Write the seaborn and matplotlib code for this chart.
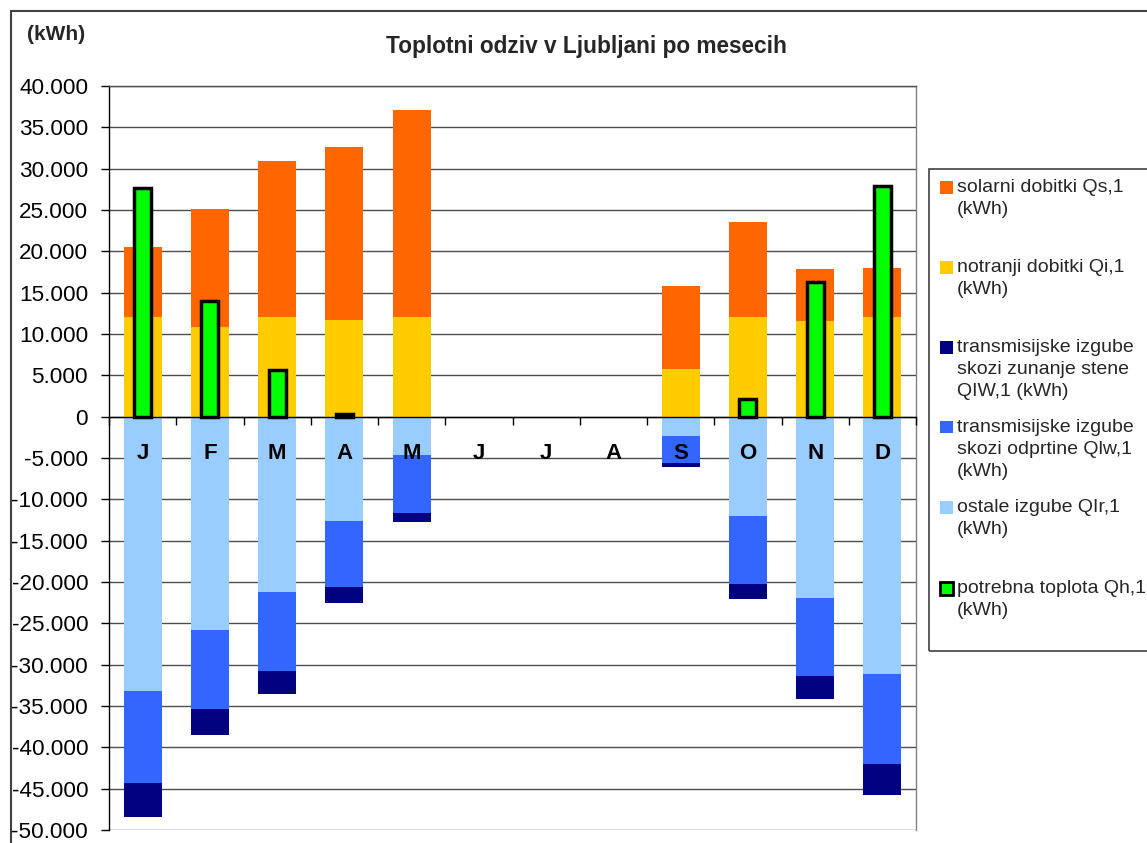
import numpy as np
import pandas as pd
import seaborn as sns
import matplotlib.pyplot as plt
from matplotlib.patches import Rectangle
from matplotlib.ticker import FuncFormatter, MultipleLocator

# monthly heat balance, Ljubljana (kWh)
months = ['J', 'F', 'M', 'A', 'M', 'J', 'J', 'A', 'S', 'O', 'N', 'D']
notranji = [12050, 10850, 12050, 11700, 12050, 0, 0, 0, 5770, 12050, 11570, 12050]
solarni = [8450, 14250, 18850, 20900, 25050, 0, 0, 0, 10030, 11450, 6290, 5950]
ostale = [33200, 25800, 21200, 12600, 4630, 0, 0, 0, 2340, 12000, 21900, 31100]
odprtine = [11100, 9550, 9550, 8000, 7020, 0, 0, 0, 3260, 8200, 9450, 10900]
zunanje = [4100, 3100, 2750, 1900, 1050, 0, 0, 0, 450, 1800, 2850, 3800]
potrebna = [27700, 14000, 5650, 300, 0, 0, 0, 0, 0, 2100, 16300, 27900]

legend_labels = ['solarni dobitki Qs,1\n(kWh)',
                 'notranji dobitki Qi,1\n(kWh)',
                 'transmisijske izgube\nskozi zunanje stene\nQIW,1 (kWh)',
                 'transmisijske izgube\nskozi odprtine Qlw,1\n(kWh)',
                 'ostale izgube QIr,1\n(kWh)',
                 'potrebna toplota Qh,1\n(kWh)']

c_sol = '#FF6600'
c_not = '#FFCC00'
c_zun = '#000080'
c_odp = '#3366FF'
c_ost = '#99CCFF'
c_pot = '#00FF00'

sns.set_style('white')
plt.rcParams['font.family'] = ['Liberation Sans', 'DejaVu Sans']

W, H = 1147, 843
fig = plt.figure(figsize=(W / 100, H / 100), dpi=100)
ax = fig.add_axes([109 / W, 1 - 830 / H, (916 - 109) / W, (830 - 86) / H])

df = pd.DataFrame({'pos': range(12), 'notranji': notranji, 'solarni': solarni,
                   'ostale': ostale, 'odprtine': odprtine, 'zunanje': zunanje,
                   'potrebna': potrebna})
df['potrebna'] = df['potrebna'].replace(0, np.nan)

bw = 0.565
common = dict(x='pos', data=df, width=bw, saturation=1, errorbar=None, ax=ax, linewidth=0)

# gains stacked upwards
sns.barplot(y='notranji', color=c_not, **common)
sns.barplot(y=df['solarni'], bottom=df['notranji'], color=c_sol, **common)

# losses stacked downwards
sns.barplot(y=-df['ostale'], color=c_ost, **common)
sns.barplot(y=-df['odprtine'], bottom=-df['ostale'], color=c_odp, **common)
sns.barplot(y=-df['zunanje'], bottom=-(df['ostale'] + df['odprtine']), color=c_zun, **common)

# required heat
sns.barplot(x='pos', y='potrebna', data=df, width=0.25, saturation=1, errorbar=None,
            ax=ax, color=c_pot, edgecolor='black', linewidth=2.5)

# spine first: moving it resets the ticks
ax.spines['bottom'].set_position(('data', 0))
ax.spines['bottom'].set_color('black')
ax.spines['left'].set_color('black')
ax.spines['right'].set_color('#808080')
ax.spines['top'].set_color('#4d4d4d')
for s in ax.spines.values():
    s.set_linewidth(1)

ax.set_xlim(-0.5, 11.5)
ax.set_ylim(-50000, 40000)
ax.yaxis.set_major_locator(MultipleLocator(5000))
ax.yaxis.set_major_formatter(FuncFormatter(lambda v, p: f'{int(v):,}'.replace(',', '.')))
ax.set_axisbelow(True)
ax.yaxis.grid(True, color='#4d4d4d', lw=1)
ax.xaxis.grid(False)

ax.set_xticks(range(12))
ax.set_xticks(np.arange(-0.5, 12, 1), minor=True)
ax.tick_params(axis='x', which='major', length=0, pad=19, labelsize=16, labelcolor='black')
ax.tick_params(axis='x', which='minor', bottom=True, length=6, width=1, color='black', direction='out')
ax.tick_params(axis='y', left=True, length=6, width=1, color='black', direction='out',
               labelsize=16.2, labelcolor='black', pad=9)
ax.set_xticklabels(months, fontweight='bold')
ax.set_xlabel('')
ax.set_ylabel('')
# month letters sit on top of the bars
ax.xaxis.set_zorder(5)

def fx(x, y):
    return x / W, 1 - y / H

# titles
fig.text(*fx(586, 47), 'Toplotni odziv v Ljubljani po mesecih', ha='center', va='center',
         fontsize=16.3, fontweight='bold')
fig.text(*fx(56, 34), '(kWh)', ha='center', va='center', fontsize=15, fontweight='bold')

# outer chart border
fig.add_artist(Rectangle(fx(11, 900), 2, (900 - 11) / H, transform=fig.transFigure,
                         fill=False, edgecolor='#404040', lw=1.5, clip_on=False))

# legend box
fig.add_artist(Rectangle(fx(929, 651), (1160 - 929) / W, (651 - 169) / H,
                         transform=fig.transFigure, fill=False, edgecolor='#404040',
                         lw=1.2, clip_on=False))
leg_colors = [c_sol, c_not, c_zun, c_odp, c_ost, c_pot]
leg_y = [187, 267, 347, 427, 507, 588]
for lab, col, yc in zip(legend_labels, leg_colors, leg_y):
    is_pot = col == c_pot
    fig.add_artist(Rectangle(fx(940, yc + 6.5), 13 / W, 13 / H, transform=fig.transFigure,
                             facecolor=col, edgecolor='black' if is_pot else col,
                             lw=2 if is_pot else 0))
    fig.text(*fx(957, yc - 8), lab, ha='left', va='top', fontsize=14, linespacing=1.37)

fig.savefig('out.png', dpi=100)
